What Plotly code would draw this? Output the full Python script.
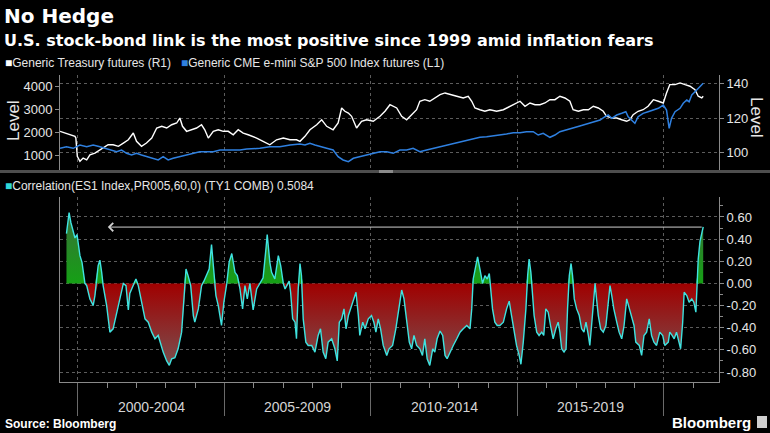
import numpy as np
import pandas as pd
import plotly.graph_objects as go

# ---------------- data ----------------
# Generic Treasury futures (R1), decimal year / price
tsy_year = [1999.39, 1999.56, 1999.73, 1999.90, 1999.93, 1999.98, 2000.07, 2000.18, 2000.30, 2000.41,
            2000.58, 2000.75, 2000.92, 2001.03, 2001.20, 2001.38, 2001.55, 2001.72, 2001.89, 2002.00,
            2002.17, 2002.34, 2002.52, 2002.69, 2002.86, 2003.03, 2003.20, 2003.37, 2003.48, 2003.57,
            2003.71, 2003.88, 2004.05, 2004.22, 2004.33, 2004.45, 2004.62, 2004.79, 2004.96, 2005.13,
            2005.30, 2005.47, 2005.64, 2005.81, 2005.98, 2006.10, 2006.32, 2006.55, 2006.78, 2007.01,
            2007.24, 2007.46, 2007.58, 2007.75, 2007.92, 2008.15, 2008.32, 2008.49, 2008.71, 2008.88,
            2009.00, 2009.11, 2009.23, 2009.34, 2009.51, 2009.68, 2009.85, 2010.08, 2010.31, 2010.48,
            2010.65, 2010.88, 2011.05, 2011.22, 2011.39, 2011.56, 2011.67, 2011.84, 2012.01, 2012.18,
            2012.36, 2012.53, 2012.70, 2012.93, 2013.15, 2013.32, 2013.44, 2013.55, 2013.72, 2013.89,
            2014.06, 2014.29, 2014.52, 2014.63, 2014.86, 2015.09, 2015.26, 2015.43, 2015.60, 2015.77,
            2015.94, 2016.11, 2016.28, 2016.45, 2016.62, 2016.79, 2016.90, 2017.08, 2017.25, 2017.42,
            2017.59, 2017.76, 2017.93, 2018.04, 2018.22, 2018.39, 2018.56, 2018.73, 2018.84, 2018.95,
            2019.12, 2019.29, 2019.46, 2019.64, 2019.81, 2019.98, 2020.09, 2020.20, 2020.38, 2020.55,
            2020.72, 2020.89, 2021.06, 2021.17, 2021.29, 2021.34]
tsy_price = [112.4, 111.4, 110.4, 109.5, 108.5, 97.9, 95.0, 96.9, 95.9, 98.8,
             99.8, 101.7, 103.7, 104.6, 104.6, 103.7, 105.6, 107.5, 111.4, 106.6,
             103.7, 105.6, 108.5, 114.3, 115.3, 114.3, 116.2, 117.2, 120.1, 115.3,
             112.4, 113.3, 114.3, 116.2, 113.3, 108.5, 112.4, 113.3, 112.4, 112.4,
             110.4, 113.3, 111.4, 110.4, 109.5, 108.5, 106.6, 104.6, 107.5, 108.5,
             107.5, 107.5, 106.6, 109.5, 113.3, 116.2, 119.1, 115.3, 113.3, 117.2,
             125.9, 124.0, 123.0, 121.1, 114.3, 118.2, 119.1, 118.2, 121.1, 124.0,
             127.8, 125.9, 121.1, 119.1, 122.0, 124.9, 129.8, 130.7, 129.8, 131.7,
             133.6, 134.6, 133.6, 132.7, 131.7, 132.7, 129.8, 125.9, 124.9, 124.0,
             124.9, 124.0, 124.9, 125.9, 127.8, 129.8, 126.9, 128.8, 127.8, 127.8,
             128.8, 130.7, 130.7, 132.7, 131.7, 129.8, 124.9, 124.0, 124.9, 124.9,
             126.9, 125.9, 124.0, 121.1, 120.1, 120.1, 119.1, 118.2, 119.1, 122.0,
             124.0, 124.9, 126.9, 130.7, 129.8, 128.8, 134.6, 139.4, 139.4, 140.4,
             139.4, 138.5, 136.5, 132.7, 131.7, 132.7]

# Generic CME e-mini S&P 500 Index futures (L1), decimal year / level
spx_year = [1999.39, 1999.61, 1999.84, 2000.07, 2000.30, 2000.52, 2000.75, 2000.92, 2001.09, 2001.32,
            2001.49, 2001.66, 2001.83, 2002.00, 2002.17, 2002.34, 2002.57, 2002.74, 2002.91, 2003.08,
            2003.25, 2003.48, 2003.71, 2003.94, 2004.16, 2004.39, 2004.62, 2004.85, 2005.08, 2005.30,
            2005.53, 2005.76, 2005.98, 2006.21, 2006.55, 2006.89, 2007.24, 2007.58, 2007.75, 2007.92,
            2008.09, 2008.26, 2008.49, 2008.71, 2008.88, 2009.05, 2009.23, 2009.40, 2009.62, 2009.85,
            2010.08, 2010.31, 2010.54, 2010.76, 2010.99, 2011.22, 2011.44, 2011.67, 2011.90, 2012.13,
            2012.36, 2012.58, 2012.81, 2013.04, 2013.27, 2013.49, 2013.72, 2013.95, 2014.17, 2014.40,
            2014.63, 2014.86, 2015.09, 2015.31, 2015.54, 2015.71, 2015.88, 2016.11, 2016.28, 2016.45,
            2016.68, 2016.90, 2017.13, 2017.36, 2017.59, 2017.82, 2017.99, 2018.10, 2018.22, 2018.39,
            2018.56, 2018.70, 2018.78, 2018.90, 2019.01, 2019.12, 2019.29, 2019.46, 2019.64, 2019.81,
            2019.98, 2020.09, 2020.18, 2020.26, 2020.38, 2020.55, 2020.66, 2020.78, 2020.86, 2020.95,
            2021.06, 2021.17, 2021.29, 2021.34]
spx_level = [1320, 1390, 1320, 1464, 1390, 1464, 1390, 1320, 1247, 1173,
             1247, 1104, 1030, 1104, 1030, 957, 887, 814, 957, 814,
             887, 957, 1030, 1104, 1173, 1173, 1173, 1247, 1247, 1247,
             1247, 1290, 1290, 1320, 1390, 1390, 1464, 1507, 1464, 1537,
             1464, 1390, 1320, 1247, 957, 814, 740, 887, 957, 1030,
             1104, 1173, 1173, 1104, 1247, 1247, 1320, 1173, 1247, 1320,
             1390, 1464, 1537, 1607, 1680, 1754, 1798, 1824, 1854, 1897,
             1941, 1997, 1997, 2040, 2040, 1897, 1971, 1798, 1897, 2040,
             2114, 2188, 2287, 2374, 2474, 2548, 2690, 2764, 2621, 2764,
             2838, 2907, 2690, 2548, 2404, 2690, 2838, 2907, 2981, 3055,
             3198, 2981, 2188, 2621, 2907, 3055, 3272, 3415, 3341, 3631,
             3774, 3922, 4065, 4139]

# Correlation(ES1 Index,PR005,60,0) (TY1 COMB), decimal year / value
corr_year = [1999.61, 1999.66, 1999.70, 1999.76, 1999.81, 1999.90, 1999.97, 2000.07, 2000.14, 2000.24,
             2000.30, 2000.41, 2000.52, 2000.58, 2000.69, 2000.75, 2000.81, 2000.86, 2000.98, 2001.09,
             2001.20, 2001.32, 2001.43, 2001.55, 2001.64, 2001.72, 2001.77, 2001.89, 2001.98, 2002.06,
             2002.17, 2002.29, 2002.40, 2002.52, 2002.63, 2002.74, 2002.91, 2003.03, 2003.12, 2003.20,
             2003.31, 2003.42, 2003.54, 2003.62, 2003.69, 2003.76, 2003.85, 2003.94, 2003.99, 2004.11,
             2004.22, 2004.30, 2004.39, 2004.48, 2004.56, 2004.62, 2004.71, 2004.79, 2004.90, 2004.98,
             2005.08, 2005.16, 2005.25, 2005.36, 2005.44, 2005.53, 2005.62, 2005.70, 2005.78, 2005.87,
             2005.98, 2006.10, 2006.21, 2006.32, 2006.42, 2006.46, 2006.55, 2006.61, 2006.72, 2006.84,
             2006.92, 2007.01, 2007.07, 2007.14, 2007.21, 2007.26, 2007.33, 2007.41, 2007.46, 2007.52,
             2007.58, 2007.63, 2007.69, 2007.78, 2007.86, 2007.98, 2008.09, 2008.20, 2008.28, 2008.37,
             2008.46, 2008.54, 2008.66, 2008.77, 2008.85, 2008.92, 2009.00, 2009.08, 2009.15, 2009.23,
             2009.34, 2009.42, 2009.49, 2009.57, 2009.62, 2009.72, 2009.80, 2009.91, 2010.02, 2010.10,
             2010.17, 2010.25, 2010.33, 2010.42, 2010.54, 2010.62, 2010.74, 2010.85, 2010.97, 2011.05,
             2011.13, 2011.22, 2011.31, 2011.39, 2011.47, 2011.56, 2011.67, 2011.76, 2011.84, 2011.92,
             2012.01, 2012.11, 2012.18, 2012.26, 2012.36, 2012.45, 2012.53, 2012.60, 2012.70, 2012.81,
             2012.93, 2013.04, 2013.15, 2013.27, 2013.38, 2013.44, 2013.49, 2013.58, 2013.64, 2013.72,
             2013.81, 2013.89, 2013.97, 2014.04, 2014.09, 2014.15, 2014.23, 2014.31, 2014.40, 2014.52,
             2014.63, 2014.72, 2014.80, 2014.88, 2014.97, 2015.06, 2015.12, 2015.20, 2015.29, 2015.35,
             2015.40, 2015.46, 2015.52, 2015.57, 2015.66, 2015.74, 2015.83, 2015.90, 2015.97, 2016.05,
             2016.13, 2016.22, 2016.31, 2016.39, 2016.45, 2016.51, 2016.59, 2016.66, 2016.71, 2016.77,
             2016.83, 2016.88, 2016.94, 2017.02, 2017.11, 2017.19, 2017.27, 2017.34, 2017.42, 2017.47,
             2017.53, 2017.59, 2017.65, 2017.70, 2017.76, 2017.84, 2017.93, 2018.02, 2018.10, 2018.16,
             2018.22, 2018.29, 2018.39, 2018.47, 2018.56, 2018.64, 2018.73, 2018.82, 2018.90, 2018.98,
             2019.04, 2019.16, 2019.24, 2019.32, 2019.41, 2019.50, 2019.58, 2019.66, 2019.75, 2019.86,
             2019.96, 2020.03, 2020.15, 2020.20, 2020.28, 2020.35, 2020.43, 2020.57, 2020.64, 2020.69,
             2020.78, 2020.86, 2020.95, 2021.02, 2021.09, 2021.14, 2021.17, 2021.23, 2021.29, 2021.34]
corr_value = [0.45, 0.58, 0.64, 0.55, 0.50, 0.41, 0.44, 0.25, 0.19, 0.00,
              -0.02, -0.14, -0.20, -0.11, 0.16, 0.21, 0.10, -0.02, -0.20, -0.44,
              -0.41, -0.26, -0.14, 0.00, -0.02, -0.24, -0.09, -0.02, 0.04, -0.02,
              -0.17, -0.32, -0.35, -0.44, -0.50, -0.47, -0.62, -0.70, -0.74, -0.68,
              -0.67, -0.59, -0.44, -0.17, 0.13, 0.07, -0.02, -0.29, -0.35, -0.23,
              -0.02, 0.02, 0.07, 0.13, 0.35, 0.13, -0.11, -0.20, -0.38, -0.17,
              0.00, 0.19, 0.27, 0.10, 0.07, -0.05, -0.23, -0.02, -0.14, 0.00,
              -0.24, -0.05, 0.00, 0.05, 0.32, 0.44, 0.19, 0.10, 0.04, 0.25,
              0.16, 0.00, -0.05, -0.02, 0.02, -0.08, -0.32, -0.35, -0.50, -0.05,
              0.18, 0.07, -0.32, -0.53, -0.56, -0.56, -0.62, -0.47, -0.41, -0.62,
              -0.68, -0.53, -0.50, -0.59, -0.70, -0.35, -0.32, -0.23, -0.41, -0.29,
              -0.20, -0.14, -0.08, -0.29, -0.47, -0.35, -0.41, -0.32, -0.29, -0.35,
              -0.44, -0.32, -0.41, -0.56, -0.65, -0.59, -0.56, -0.41, -0.17, -0.06,
              -0.14, -0.35, -0.53, -0.59, -0.47, -0.56, -0.59, -0.65, -0.50, -0.68,
              -0.74, -0.59, -0.62, -0.50, -0.43, -0.47, -0.65, -0.68, -0.62, -0.56,
              -0.50, -0.44, -0.41, -0.38, -0.41, -0.23, 0.04, 0.16, 0.24, 0.13,
              0.00, 0.07, 0.04, 0.09, -0.05, -0.23, -0.35, -0.38, -0.38, -0.35,
              -0.23, -0.16, -0.29, -0.41, -0.56, -0.65, -0.73, -0.53, -0.23, 0.07,
              0.22, 0.10, -0.08, -0.29, -0.44, -0.47, -0.44, -0.47, -0.23, -0.26,
              -0.38, -0.50, -0.41, -0.35, -0.44, -0.59, -0.62, -0.59, -0.23, 0.07,
              0.18, 0.07, -0.14, -0.23, -0.29, -0.41, -0.44, -0.35, -0.47, -0.56,
              -0.38, -0.17, 0.00, -0.14, -0.29, -0.41, -0.44, -0.38, -0.17, -0.02,
              -0.11, -0.23, -0.35, -0.44, -0.50, -0.38, -0.14, -0.23, -0.29, -0.38,
              -0.53, -0.56, -0.65, -0.47, -0.44, -0.32, -0.47, -0.53, -0.56, -0.44,
              -0.47, -0.56, -0.53, -0.44, -0.47, -0.50, -0.44, -0.59, -0.35, -0.08,
              -0.11, -0.17, -0.14, -0.17, -0.26, 0.07, 0.22, 0.38, 0.45, 0.51]

corr_last = 0.5084
corr_arrow_from_year = 2001.02

period_labels = ["2000-2004", "2005-2009", "2010-2014", "2015-2019"]
period_mid_years = [2002.5, 2007.5, 2012.5, 2017.5]
corr_tickvals = [-0.8, -0.6, -0.4, -0.2, 0.0, 0.2, 0.4, 0.6]
corr_ticktext = ["-0.80", "-0.60", "-0.40", "-0.20", "0.00", "0.20", "0.40", "0.60"]
spx_tickvals = [1000, 2000, 3000, 4000]
tsy_tickvals = [100, 120, 140]

assert len(tsy_year) == len(tsy_price)
assert len(spx_year) == len(spx_level)
assert len(corr_year) == len(corr_value)


def to_dates(years):
    out = []
    for y in years:
        yi = int(np.floor(y))
        s = pd.Timestamp(year=yi, month=1, day=1)
        e = pd.Timestamp(year=yi + 1, month=1, day=1)
        out.append(s + (e - s) * (y - yi))
    return pd.DatetimeIndex(out)


tsy_dates = to_dates(tsy_year)
spx_dates = to_dates(spx_year)
corr_dates = to_dates(corr_year)
cv = np.array(corr_value)

# ---------------- layout helpers ----------------
W, H = 770, 433
def fx(px): return px / W
def fy(py): return 1 - py / H

X_DOM = [fx(60), fx(719)]
TOP_DOM = [fy(170), fy(75)]
BOT_DOM = [fy(382), fy(197)]
x_range = [d.strftime("%Y-%m-%d") for d in to_dates([1999.39, 2021.88])]

FONT = "Liberation Sans, Arial, sans-serif"
TXT = "#e6e6e6"
GRID = "#5c5c5c"
AXIS = "#8a8a8a"

fig = go.Figure()

fig.add_trace(go.Scatter(x=tsy_dates, y=tsy_price, mode="lines",
                         line=dict(color="#ffffff", width=1.4),
                         xaxis="x", yaxis="y", hoverinfo="skip"))
fig.add_trace(go.Scatter(x=spx_dates, y=spx_level, mode="lines",
                         line=dict(color="#2f80e0", width=1.5),
                         xaxis="x", yaxis="y2", hoverinfo="skip"))

fig.add_trace(go.Scatter(x=corr_dates, y=np.maximum(cv, 0), mode="lines",
                         line=dict(width=0, color="rgba(0,0,0,0)"),
                         fill="tozeroy", fillcolor="#1f8f1f",
                         fillgradient=dict(type="vertical",
                                           colorscale=[[0, "#15a015"], [1, "#3a6e3a"]],
                                           start=0, stop=0.65),
                         xaxis="x2", yaxis="y3", hoverinfo="skip"))
fig.add_trace(go.Scatter(x=corr_dates, y=np.minimum(cv, 0), mode="lines",
                         line=dict(width=0, color="rgba(0,0,0,0)"),
                         fill="tozeroy", fillcolor="#8a1010",
                         fillgradient=dict(type="vertical",
                                           colorscale=[[0, "#7a5050"], [1, "#a00000"]],
                                           start=-0.75, stop=0),
                         xaxis="x2", yaxis="y3", hoverinfo="skip"))
fig.add_trace(go.Scatter(x=corr_dates, y=cv, mode="lines",
                         line=dict(color="#3fe3e0", width=1.4),
                         xaxis="x2", yaxis="y3", hoverinfo="skip"))

tickfont = dict(family=FONT, size=13, color=TXT)

fig.update_layout(
    width=W, height=H, margin=dict(l=0, r=0, t=0, b=0),
    paper_bgcolor="#000000", plot_bgcolor="#000000",
    showlegend=False,
    xaxis=dict(domain=X_DOM, anchor="y", type="date", range=x_range,
               showgrid=True, gridcolor=GRID, griddash="dot", gridwidth=1,
               tick0="2000-01-01", dtick="M60", showticklabels=False,
               ticks="", showline=False, zeroline=False),
    yaxis=dict(domain=TOP_DOM, anchor="x", side="right", range=[90, 145],
               tickvals=tsy_tickvals, showgrid=True, gridcolor=GRID, griddash="dot",
               showline=True, linecolor=AXIS, linewidth=1, ticks="outside", ticklen=4,
               tickcolor=AXIS, tickfont=tickfont, zeroline=False),
    yaxis2=dict(overlaying="y", anchor="x", side="left", range=[380, 4500],
                tickvals=spx_tickvals, showgrid=False, showline=True, linecolor=AXIS,
                linewidth=1, ticks="outside", ticklen=4, tickcolor=AXIS,
                tickfont=tickfont, zeroline=False),
    xaxis2=dict(domain=X_DOM, anchor="y3", type="date", range=x_range,
                showgrid=True, gridcolor=GRID, griddash="dot", gridwidth=1,
                tick0="2000-01-01", dtick="M60", ticks="outside", ticklen=33,
                tickcolor="#6a6a6a", showticklabels=False,
                showline=True, linecolor=AXIS, linewidth=1, zeroline=False,
                minor=dict(tick0="2000-01-01", dtick="M12", ticks="outside",
                           ticklen=5, tickcolor=AXIS, showgrid=False)),
    yaxis3=dict(domain=BOT_DOM, anchor="x2", side="right", range=[-0.89, 0.78],
                tickmode="array", tickvals=corr_tickvals, ticktext=corr_ticktext,
                showgrid=True, gridcolor=GRID, griddash="dot",
                showline=True, mirror=True, linecolor=AXIS, linewidth=1,
                ticks="outside", ticklen=4, tickcolor=AXIS, tickfont=tickfont,
                zeroline=False,
                minor=dict(tickmode="linear", tick0=0.1, dtick=0.2, ticks="outside",
                           ticklen=3, tickcolor=AXIS, showgrid=False)),
)

# panel separator
fig.add_shape(type="rect", xref="paper", yref="paper", x0=0, x1=1,
              y0=fy(173), y1=fy(170), fillcolor="#4e4e4e", line=dict(width=0), layer="above")
fig.add_shape(type="rect", xref="paper", yref="paper", x0=fx(379), x1=fx(393),
              y0=fy(173), y1=fy(170), fillcolor="#8a8a8a", line=dict(width=0), layer="above")

ann = []
ann.append(dict(text="<b>No Hedge</b>", x=fx(2), y=fy(16), xref="paper", yref="paper",
                xanchor="left", yanchor="middle", showarrow=False,
                font=dict(family="DejaVu Sans, sans-serif", size=20, color="#ffffff")))
ann.append(dict(text="<b>U.S. stock-bond link is the most positive since 1999 amid inflation fears</b>",
                x=fx(2), y=fy(40), xref="paper", yref="paper", xanchor="left", yanchor="middle",
                showarrow=False,
                font=dict(family="DejaVu Sans, sans-serif", size=16, color="#ffffff")))
ann.append(dict(text='<span style="color:#ffffff">■</span>Generic Treasury futures (R1)   '
                     '<span style="color:#2f80e0">■</span>Generic CME e-mini S&P 500 Index futures (L1)',
                x=fx(3), y=fy(63), xref="paper", yref="paper", xanchor="left", yanchor="middle",
                showarrow=False, font=dict(family=FONT, size=12, color=TXT)))
ann.append(dict(text='<span style="color:#2fd8d8">■</span>Correlation(ES1 Index,PR005,60,0) (TY1 COMB) 0.5084',
                x=fx(3), y=fy(186), xref="paper", yref="paper", xanchor="left", yanchor="middle",
                showarrow=False, font=dict(family=FONT, size=12, color=TXT)))
ann.append(dict(text="Level", x=fx(14), y=fy(121), xref="paper", yref="paper",
                xanchor="center", yanchor="middle", textangle=-90, showarrow=False,
                font=dict(family=FONT, size=17, color=TXT)))
ann.append(dict(text="Level", x=fx(757), y=fy(117), xref="paper", yref="paper",
                xanchor="center", yanchor="middle", textangle=90, showarrow=False,
                font=dict(family=FONT, size=17, color=TXT)))
for lab, my in zip(period_labels, period_mid_years):
    ann.append(dict(text=lab, x=to_dates([my])[0].strftime("%Y-%m-%d"), xref="x2",
                    y=fy(407), yref="paper", xanchor="center", yanchor="middle",
                    showarrow=False, font=dict(family=FONT, size=14, color="#d4d4d4")))
ann.append(dict(text="<b>Source: Bloomberg</b>", x=fx(3), y=fy(424), xref="paper", yref="paper",
                xanchor="left", yanchor="middle", showarrow=False,
                font=dict(family=FONT, size=12, color="#ffffff")))
ann.append(dict(text="<b>Bloomberg</b>", x=fx(753), y=fy(422), xref="paper", yref="paper",
                xanchor="right", yanchor="middle", showarrow=False,
                font=dict(family=FONT, size=15, color="#ffffff")))
# arrow from latest reading back to 1999-2000 level
ann.append(dict(text="", x=to_dates([corr_arrow_from_year])[0].strftime("%Y-%m-%d"), y=corr_last,
                xref="x2", yref="y3",
                ax=corr_dates[-1].strftime("%Y-%m-%d"), ay=corr_last, axref="x2", ayref="y3",
                showarrow=True, arrowhead=4, arrowsize=1.6, arrowwidth=1, arrowcolor="#d0d0d0"))
fig.update_layout(annotations=ann)

fig.add_shape(type="rect", xref="paper", yref="paper", x0=fx(757), x1=fx(767),
              y0=fy(428), y1=fy(416), fillcolor="#cfcfcf", line=dict(width=0))

fig.write_html("out.html",
               config={"displayModeBar": False, "staticPlot": True},
               post_script="document.body.style.margin='0';"
                           "document.body.style.background='#000';"
                           "document.documentElement.style.overflow='hidden';")
